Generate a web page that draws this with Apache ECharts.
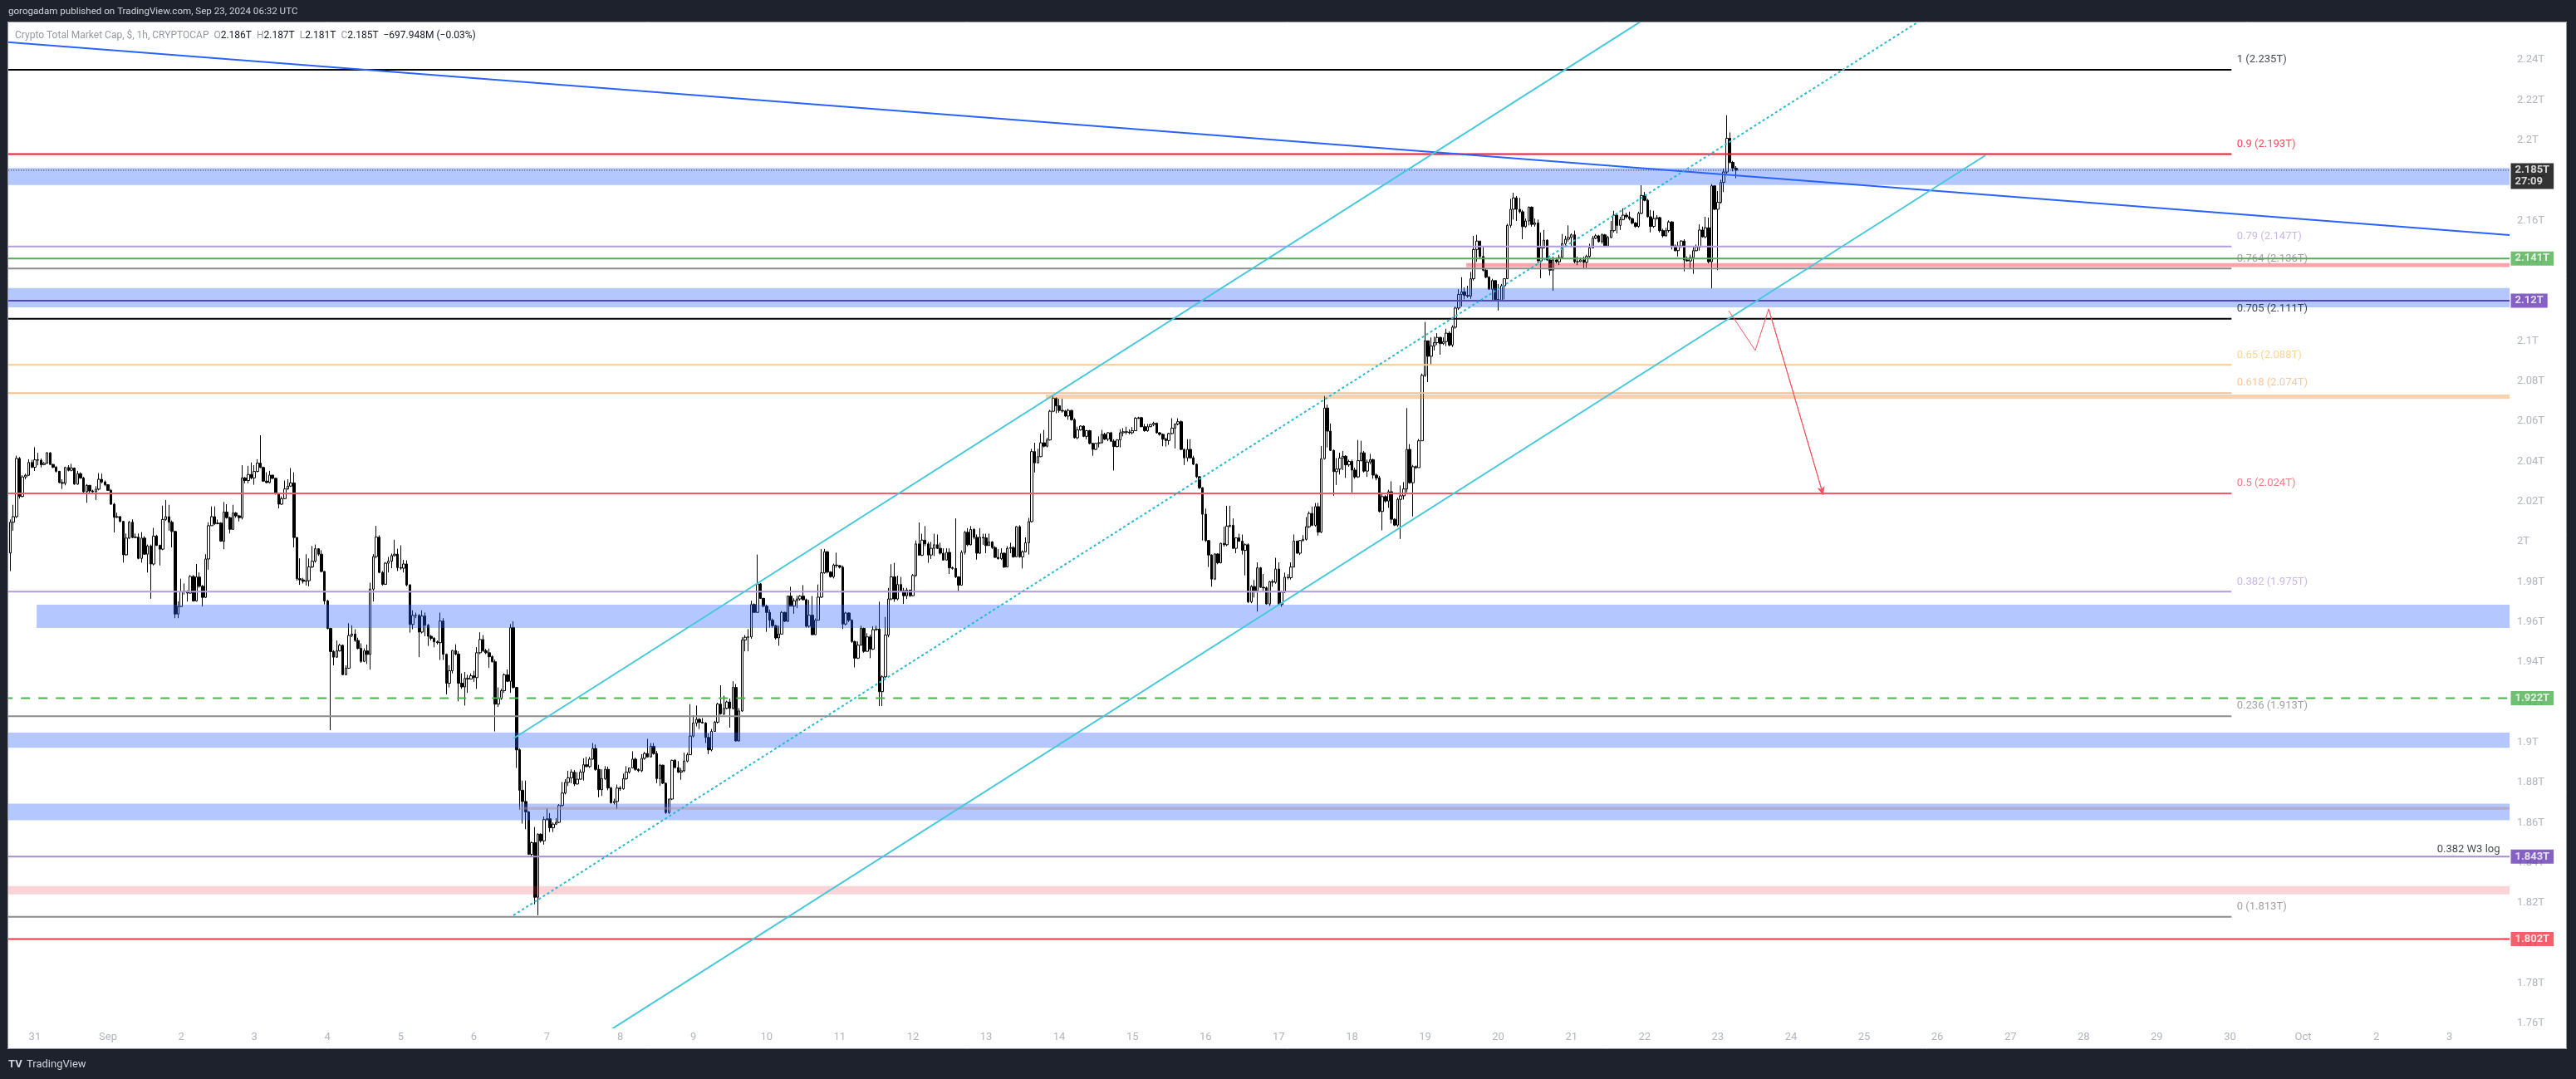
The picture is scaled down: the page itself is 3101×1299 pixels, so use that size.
<!DOCTYPE html>
<html>
<head>
<meta charset="utf-8">
<title>Crypto Total Market Cap, $, 1h</title>
<script src="https://cdn.jsdelivr.net/npm/echarts@6.0.0/dist/echarts.min.js"></script>
<style>
html,body{margin:0;padding:0;background:#1e222d;overflow:hidden;}
#chart{width:3101px;height:1299px;}
</style>
</head>
<body>
<div id="chart"></div>
<script>
// ===== DATA =====
// Hourly candles. x = hours since 2024-09-01 00:00 UTC, values in billions of USD.
const firstHour = -32;          // Aug 30 16:00 UTC
const firstOpen = 1994.3;

const closes = [
// Aug 30 16:00 .. Sep 5 14:00
2009.6,2012.4,2041.4,2022.5,2032.2,2033.0,2039.4,2037.0,2040.7,2040.5,
2038.3,2039.0,2044.2,2038.4,2037.0,2035.0,2029.4,2029.0,2036.9,2035.5,
2036.6,2028.6,2033.8,2031.6,2024.8,2028.0,2025.2,2024.8,2026.1,2031.0,
2029.7,2028.3,2025.5,2018.6,2012.1,2012.4,2010.0,1993.4,2001.7,2009.6,
2002.0,2002.2,1991.6,2001.7,1993.7,1997.8,1988.8,2002.7,1998.1,1996.2,
2011.0,2012.4,2009.6,2005.0,1963.9,1967.6,1975.0,1975.2,1974.3,1982.6,
1970.4,1982.3,1977.7,1972.2,1991.3,2007.9,2012.4,2008.9,2009.2,2000.2,
2014.7,2011.9,2006.1,2014.2,2012.8,2011.9,2031.7,2030.4,2033.4,2031.7,
2034.9,2039.1,2036.9,2030.1,2029.4,2033.1,2031.5,2023.8,2018.6,2021.4,
2026.2,2027.6,2029.2,2002.0,1981.5,1980.9,1980.2,1980.5,1987.4,1990.2,
1996.4,1993.7,1985.1,1970.4,1956.7,1945.2,1942.4,1945.5,1948.3,1933.7,
1936.9,1953.2,1953.9,1950.7,1946.8,1940.3,1945.5,1943.8,1976.3,1992.5,
2002.2,1984.6,1978.7,1989.2,1990.2,1993.0,1993.7,1987.0,1986.7,1988.8,
1978.4,1958.7,1963.2,1963.2,1954.9,1962.9,1958.3,1952.8,1951.8,1950.0,
1949.6,1960.4,1943.8,
// Sep 5 15:00 .. Sep 11 13:00
1929.4,1935.6,1945.7,1943.9,1929.4,1927.6,1931.8,1931.5,1933.1,1932.2,
1944.6,1951.2,1945.6,1944.6,1942.6,1940.1,1919.0,1921.8,1925.7,1933.6,
1930.4,1957.1,1927.3,1896.2,1876.1,1870.5,1865.3,1844.2,1850.0,1822.8,
1854.2,1850.9,1861.5,1861.9,1857.4,1859.2,1860.1,1868.5,1874.7,1880.0,
1882.3,1885.1,1879.2,1881.6,1885.1,1888.8,1887.9,1891.6,1896.9,1886.5,
1876.4,1881.9,1886.5,1877.2,1869.9,1870.5,1877.2,1876.8,1881.9,1885.1,
1887.2,1891.6,1886.5,1885.8,1892.0,1894.4,1892.7,1898.0,1894.4,1881.9,
1888.6,1879.6,1865.0,1871.7,1891.0,1887.4,1885.1,1885.8,1890.6,1893.8,
1903.1,1909.6,1911.4,1910.0,1909.6,1902.4,1896.2,1905.4,1910.0,1919.0,
1914.2,1916.9,1920.1,1916.9,1927.3,1900.7,1915.6,1950.9,1952.3,1952.5,
1968.6,1964.7,1978.9,1971.7,1967.8,1964.7,1960.8,1958.1,1952.0,1953.9,
1964.7,1960.3,1972.8,1967.8,1970.5,1971.4,1972.8,1971.0,1957.8,1963.3,
1953.6,1960.8,1972.3,1984.4,1994.9,1984.8,1982.5,1988.3,1988.0,1987.2,
1958.9,1964.4,1960.8,1950.2,1941.9,1948.4,1956.7,1945.3,1952.5,1946.4,
1956.1,1956.4,1925.2,
// Sep 11 14:00 .. Sep 17 12:00
1932.6,1953.4,1971.4,1982.4,1971.4,1978.6,1975.5,1973.0,1975.8,1973.0,
1983.1,1998.8,1993.2,2000.7,1998.8,1993.3,1996.6,1998.4,1996.6,1994.2,
1990.8,1994.6,1986.9,1986.6,1982.4,1978.3,1994.6,2004.6,1998.4,2006.0,
2002.1,1994.2,2002.1,2001.8,1998.0,1999.8,1997.0,1992.1,1991.5,1994.2,
1987.3,1996.6,1997.0,1992.4,2007.4,1992.4,1994.9,1999.4,2009.9,2044.8,
2039.2,2042.3,2049.2,2047.5,2050.6,2064.9,2071.4,2067.6,2065.3,2065.0,
2062.5,2065.3,2060.7,2051.7,2055.6,2057.5,2052.4,2055.2,2048.9,2045.9,
2048.9,2049.2,2053.4,2051.0,2054.2,2050.0,2047.3,2050.6,2054.2,2054.7,
2054.5,2054.2,2055.2,2061.4,2061.7,2057.2,2055.2,2057.2,2058.3,2058.9,
2054.2,2053.4,2051.0,2050.3,2053.8,2056.5,2058.6,2059.7,2045.9,2041.7,
2045.9,2041.7,2038.5,2032.3,2026.8,2013.6,2000.5,1993.3,1981.3,1993.8,
1989.4,1999.1,1998.4,2007.7,2008.1,1996.6,2001.8,2000.2,1995.6,1998.4,
1970.0,1977.6,1975.5,1986.9,1977.2,1976.9,1968.9,1980.0,1979.7,1986.3,
1968.6,1974.8,1982.2,1982.0,1987.3,2000.2,1994.2,2000.5,2001.1,2007.4,
2014.0,2008.1,2017.4,
// Sep 17 13:00 .. Sep 23 06:00
2004.7,2041.3,2066.5,2055.0,2045.4,2034.8,2036.1,2041.6,2042.5,2038.2,
2039.9,2035.6,2032.2,2040.3,2044.2,2035.1,2039.6,2040.8,2033.1,2031.7,
2015.0,2022.4,2020.2,2024.8,2011.1,2008.2,2021.0,2022.8,2026.2,2045.9,
2029.3,2037.3,2036.8,2050.2,2082.8,2100.0,2092.3,2097.4,2099.1,2101.7,
2098.6,2099.6,2103.8,2097.9,2106.8,2116.3,2123.1,2124.4,2122.6,2122.3,
2130.9,2145.5,2149.7,2142.0,2135.2,2131.7,2125.7,2130.0,2120.6,2120.2,
2127.4,2130.9,2157.5,2165.5,2171.2,2165.5,2164.3,2156.9,2159.7,2166.6,
2158.0,2158.7,2139.8,2146.3,2150.1,2140.3,2135.2,2140.3,2139.4,2141.5,
2148.4,2150.6,2151.5,2152.8,2139.4,2139.4,2140.3,2139.1,2142.0,2146.3,
2151.1,2152.3,2149.4,2152.8,2147.2,2151.5,2154.9,2162.6,2157.5,2160.4,
2162.6,2161.8,2160.9,2158.7,2157.0,2163.5,2172.4,2170.0,2161.8,2157.0,
2160.9,2161.4,2154.9,2152.3,2154.9,2159.2,2147.2,2144.9,2147.2,2149.7,
2140.3,2139.8,2141.5,2144.9,2146.7,2155.2,2151.8,2156.3,2139.4,2177.2,
2165.5,2169.0,2178.9,2184.1,2200.9,2188.9,2186.0,2185.0
];

const highs = [
2011.0,2018.3,2042.8,2042.1,2033.1,2033.8,2041.0,2040.7,2047.0,2044.2,
2041.4,2039.6,2044.5,2044.5,2038.7,2037.7,2035.2,2031.0,2037.3,2038.0,
2038.7,2036.9,2035.2,2034.5,2032.2,2028.6,2028.0,2025.8,2027.6,2034.1,
2033.8,2030.4,2028.6,2026.2,2019.3,2014.4,2012.8,2010.3,2004.0,2010.3,
2011.0,2004.0,2004.0,2004.7,2002.7,1998.5,1998.5,2006.8,2003.4,1998.5,
2017.9,2020.7,2018.3,2010.5,2005.4,1970.1,1981.5,1979.1,1975.7,1983.3,
1983.3,1988.8,1984.6,1978.4,1993.7,2009.6,2017.5,2017.5,2011.0,2009.6,
2019.7,2018.6,2012.4,2018.3,2014.7,2013.3,2038.0,2032.2,2037.7,2039.4,
2038.0,2041.0,2052.9,2037.3,2034.5,2035.2,2033.1,2031.7,2024.4,2022.5,
2030.4,2031.0,2036.6,2034.5,2002.2,1991.6,1981.9,1993.7,1991.6,1997.8,
1998.5,1996.7,1995.7,1985.3,1971.0,1957.0,1945.9,1950.7,1949.1,1948.7,
1938.3,1959.3,1958.3,1956.3,1952.1,1949.3,1946.8,1948.7,1979.5,1993.7,
2007.8,2003.1,1985.3,1989.8,1992.3,1994.0,2000.9,1996.4,1998.1,1990.9,
1990.6,1978.7,1965.7,1964.6,1963.9,1965.7,1964.6,1959.0,1953.5,1952.4,
1950.7,1964.6,1961.8,
1944.2,1938.4,1946.0,1948.8,1945.3,1934.3,1935.0,1933.6,1934.3,1935.6,
1947.4,1954.8,1953.4,1946.5,1946.7,1943.3,1941.2,1927.3,1926.6,1934.3,
1936.3,1958.9,1960.3,1927.6,1896.9,1880.9,1880.9,1865.7,1850.5,1857.8,
1854.6,1854.6,1863.0,1867.1,1864.7,1860.1,1862.2,1869.2,1880.2,1881.6,
1885.8,1886.5,1886.1,1885.1,1886.5,1892.0,1892.7,1892.7,1899.6,1898.9,
1888.8,1886.5,1888.1,1887.9,1877.8,1871.9,1878.9,1878.2,1884.4,1888.1,
1887.4,1895.5,1892.4,1887.0,1894.1,1895.2,1901.7,1899.6,1899.6,1895.6,
1889.2,1888.8,1880.0,1871.9,1891.3,1891.6,1890.6,1887.2,1894.8,1894.8,
1919.0,1913.5,1918.3,1912.1,1912.1,1910.0,1904.5,1906.6,1910.7,1919.7,
1928.4,1923.2,1920.7,1921.8,1930.4,1929.0,1917.0,1952.3,1953.4,1956.4,
1970.5,1969.2,1993.5,1979.3,1971.9,1968.6,1966.1,1961.7,1958.5,1958.1,
1965.4,1965.0,1973.0,1977.5,1971.7,1973.0,1973.3,1978.3,1971.6,1970.9,
1972.8,1961.7,1978.6,1996.3,1996.3,1995.2,1985.2,1989.0,1994.5,1988.3,
1988.0,1965.0,1964.7,1961.3,1950.6,1950.2,1958.1,1957.1,1954.3,1953.6,
1957.8,1958.1,1970.0,
1933.3,1962.4,1976.9,1988.7,1989.4,1983.0,1982.4,1976.9,1976.9,1976.1,
1983.8,2000.5,2009.5,2003.9,2007.7,1999.8,1999.8,2003.9,2003.5,1999.4,
1996.6,1996.6,1996.6,1987.5,2011.5,1982.7,1995.6,2005.3,2006.7,2007.7,
2006.7,2003.5,2006.7,2003.9,2003.9,2003.9,2000.2,1997.7,1996.3,1996.6,
1994.6,1997.7,1999.4,1997.7,2007.7,2008.1,1995.6,2002.1,2011.8,2046.2,
2049.2,2046.2,2053.8,2055.6,2051.7,2065.6,2073.2,2071.8,2071.1,2071.1,
2065.6,2066.2,2065.6,2061.4,2057.2,2057.9,2057.9,2055.6,2055.6,2049.2,
2049.2,2052.4,2055.6,2054.2,2054.5,2054.7,2051.0,2051.0,2055.9,2056.5,
2057.2,2055.9,2057.0,2062.1,2062.1,2062.1,2058.6,2058.6,2058.6,2059.7,
2059.3,2054.5,2053.8,2051.7,2054.2,2061.4,2058.6,2061.4,2060.3,2046.4,
2051.0,2051.0,2042.7,2038.9,2032.6,2027.0,2016.4,2000.7,1993.6,1994.2,
1994.2,1999.4,2007.4,2017.8,2017.8,2011.5,2002.1,2003.9,2003.5,1999.1,
1999.1,1978.3,1980.8,1989.6,1987.3,1983.8,1977.6,1980.4,1981.1,1991.9,
1989.6,1975.5,1984.5,1983.8,1989.6,2003.5,2000.5,2000.7,2003.2,2012.2,
2015.0,2017.4,2019.2,
2019.3,2047.6,2072.5,2068.2,2058.8,2045.9,2041.6,2044.2,2045.1,2043.0,
2040.8,2040.8,2036.8,2050.6,2050.2,2045.1,2040.8,2043.7,2041.3,2033.9,
2032.7,2024.5,2023.1,2025.8,2030.0,2011.6,2021.9,2027.9,2029.6,2066.5,
2048.5,2038.2,2037.9,2051.1,2083.7,2109.4,2100.0,2101.7,2102.0,2103.8,
2102.0,2101.7,2106.0,2104.8,2107.7,2117.1,2125.7,2131.7,2126.6,2127.4,
2134.3,2152.3,2152.8,2148.9,2146.7,2136.0,2132.2,2130.9,2130.0,2128.3,
2128.3,2131.2,2158.3,2170.7,2173.8,2172.1,2171.2,2165.2,2160.9,2166.9,
2166.9,2160.9,2160.4,2154.0,2155.2,2150.6,2140.8,2142.0,2141.5,2142.9,
2153.2,2152.3,2157.5,2153.5,2154.9,2142.0,2141.5,2142.0,2142.9,2148.4,
2152.3,2153.2,2152.8,2153.5,2153.2,2152.3,2159.7,2164.8,2163.5,2161.8,
2166.0,2163.8,2164.3,2161.4,2159.2,2164.3,2177.5,2174.1,2170.7,2165.2,
2164.8,2162.6,2161.8,2155.8,2156.3,2160.0,2159.7,2148.0,2149.4,2150.1,
2150.6,2142.0,2142.9,2146.7,2148.0,2158.0,2156.9,2161.8,2161.4,2178.1,
2176.3,2174.6,2180.3,2185.8,2212.4,2203.8,2189.6,2187.0
];

const lows = [
1985.3,2005.4,2011.7,2021.4,2022.0,2031.0,2032.7,2036.6,2035.2,2038.0,
2036.9,2038.0,2038.7,2038.3,2036.6,2034.4,2029.1,2026.2,2028.0,2035.0,
2035.0,2028.3,2028.3,2031.3,2024.4,2019.3,2024.1,2023.8,2020.7,2025.5,
2029.0,2027.6,2025.2,2018.3,2004.5,2011.7,2009.6,1989.5,1993.0,2001.3,
2001.7,2001.7,1991.2,1989.5,1993.4,1984.6,1971.5,1988.1,1997.8,1988.1,
1995.7,2010.3,2005.4,1997.1,1961.8,1961.8,1967.3,1973.6,1970.1,1974.0,
1970.1,1970.1,1977.0,1967.6,1971.8,1986.0,2007.8,2008.2,2008.6,1999.9,
1996.2,2011.4,2004.0,2005.8,2011.9,2010.0,2011.0,2029.0,2029.0,2031.0,
2028.3,2034.5,2036.6,2029.7,2029.0,2029.0,2031.0,2023.4,2016.5,2018.3,
2021.1,2025.8,2027.2,1997.1,1980.5,1978.4,1979.1,1978.1,1977.7,1986.7,
1989.5,1992.9,1984.6,1968.7,1956.3,1906.0,1938.3,1942.1,1945.2,1933.4,
1933.4,1936.6,1952.4,1950.0,1946.3,1939.6,1939.9,1939.0,1936.2,1970.1,
1991.6,1984.2,1978.1,1978.4,1984.6,1986.7,1992.5,1985.3,1986.0,1984.6,
1977.7,1954.6,1956.3,1961.8,1942.4,1954.2,1952.8,1948.0,1950.7,1947.3,
1948.7,1941.0,1941.0,
1923.9,1927.3,1934.3,1943.3,1920.4,1926.6,1918.3,1924.6,1931.4,1930.1,
1926.6,1943.9,1945.0,1943.9,1937.0,1939.8,1905.4,1917.6,1921.1,1924.6,
1930.0,1924.6,1926.8,1887.2,1866.4,1859.5,1856.7,1843.9,1842.9,1819.3,
1813.8,1850.0,1849.0,1860.9,1855.3,1855.3,1858.8,1859.7,1867.8,1874.0,
1878.2,1879.6,1878.2,1878.9,1881.4,1880.9,1887.6,1887.2,1891.3,1885.8,
1872.6,1873.3,1881.2,1876.1,1869.4,1869.0,1866.7,1875.8,1876.4,1881.2,
1884.4,1887.0,1885.8,1885.1,1885.1,1891.3,1892.4,1892.4,1893.8,1879.6,
1878.2,1879.2,1864.3,1864.3,1871.2,1886.9,1884.7,1881.3,1885.1,1890.0,
1893.7,1902.4,1907.9,1906.6,1909.3,1899.6,1894.1,1895.5,1905.2,1909.3,
1913.8,1913.5,1916.5,1907.3,1916.3,1900.3,1900.3,1915.2,1945.3,1945.3,
1951.6,1964.4,1964.4,1971.4,1967.2,1955.0,1957.1,1957.1,1951.2,1948.1,
1953.9,1959.9,1959.9,1967.8,1964.0,1966.8,1970.6,1970.6,1957.1,1957.1,
1953.4,1953.4,1960.6,1971.9,1984.0,1984.1,1982.0,1981.6,1986.9,1986.6,
1956.4,1958.2,1959.9,1949.5,1937.3,1941.5,1948.1,1944.6,1945.1,1941.9,
1946.0,1955.5,1918.0,
1918.0,1931.9,1952.3,1970.7,1970.0,1970.7,1975.3,1968.9,1971.4,1972.4,
1972.8,1982.4,1993.1,1992.8,1997.7,1989.4,1991.3,1992.8,1996.3,1993.5,
1990.5,1990.5,1983.8,1986.0,1981.8,1975.3,1978.0,1993.5,1997.7,1998.1,
2001.1,1991.0,1993.8,1998.4,1994.2,1998.0,1996.3,1991.9,1991.0,1990.8,
1986.9,1987.3,1994.2,1991.9,1992.4,1991.9,1986.6,1994.6,1993.5,2009.5,
2034.4,2039.0,2042.0,2046.9,2046.9,2050.3,2064.4,2063.9,2064.2,2064.2,
2062.0,2060.7,2060.2,2051.3,2051.0,2055.2,2052.0,2051.0,2048.4,2042.7,
2045.6,2046.9,2048.7,2050.6,2050.0,2049.6,2035.4,2046.9,2046.9,2052.4,
2053.4,2053.4,2053.4,2055.6,2061.1,2057.0,2054.7,2054.7,2057.0,2057.5,
2053.8,2052.7,2047.5,2047.3,2048.2,2053.4,2046.4,2057.9,2045.5,2038.1,
2039.9,2041.3,2038.1,2031.6,2026.1,2000.5,1999.8,1987.3,1977.5,1980.8,
1988.7,1989.1,1997.4,1997.7,2007.0,1996.3,1994.2,1999.8,1993.5,1983.1,
1969.3,1969.3,1972.1,1965.1,1977.0,1975.5,1968.6,1967.9,1977.5,1979.0,
1968.3,1967.5,1974.4,1981.1,1981.1,1987.1,1993.8,1993.3,2000.0,2000.5,
2006.7,2007.7,2007.4,
2003.0,2004.2,2040.8,2046.8,2045.1,2022.8,2028.2,2033.4,2035.6,2031.7,
2037.3,2024.5,2031.3,2031.7,2039.9,2034.4,2032.2,2038.5,2031.3,2030.5,
2014.5,2005.6,2019.3,2016.8,2009.0,2007.7,2007.3,2001.3,2021.0,2024.5,
2028.8,2012.5,2036.1,2036.8,2050.2,2082.0,2079.4,2088.0,2095.2,2097.9,
2093.1,2097.9,2097.4,2097.2,2096.9,2106.0,2115.4,2117.1,2120.6,2121.4,
2120.9,2130.0,2139.4,2141.2,2134.6,2131.2,2125.4,2119.7,2120.2,2115.1,
2119.7,2120.6,2130.9,2156.3,2160.4,2159.7,2163.5,2150.6,2156.3,2157.5,
2156.9,2156.9,2138.6,2131.2,2146.0,2139.8,2132.6,2124.9,2138.6,2137.7,
2141.2,2147.2,2149.4,2146.7,2138.6,2137.7,2139.1,2136.0,2136.4,2141.5,
2146.3,2150.6,2148.9,2148.4,2146.7,2146.7,2151.1,2154.0,2153.5,2155.2,
2160.0,2160.9,2160.0,2158.0,2156.3,2156.3,2163.1,2169.5,2161.4,2154.0,
2156.3,2160.4,2154.0,2151.5,2151.8,2154.0,2145.5,2144.6,2142.0,2146.3,
2134.6,2139.4,2136.0,2133.4,2144.6,2144.9,2151.5,2151.1,2138.6,2126.1,
2165.2,2135.2,2168.3,2174.1,2183.2,2188.4,2184.4,2181.0
];

// Time axis tick labels (one per day, starting Aug 31 00:00 UTC)
const dayLabels = ['31','Sep','2','3','4','5','6','7','8','9','10','11','12','13','14','15','16','17','18','19','20','21','22','23','24','25','26','27','28','29','30','Oct','2','3'];
// Price axis ticks ($B)
const priceTicks = [1760,1780,1800,1820,1840,1860,1880,1900,1920,1940,1960,1980,2000,2020,2040,2060,2080,2100,2120,2140,2160,2180,2200,2220,2240];

// Fibonacci retracement
const fibRatios = ['1','0.9','0.79','0.764','0.705','0.65','0.618','0.5','0.382','0.236','0'];
const fibPrices = [2235,2193,2147,2136,2111,2088,2074,2024,1975,1913,1813];
const fibLineColors = ['#000000','#f7162f','#b39ddb','#8c8c8c','#000000','#ffcc80','#f5bf8c','#f15a67','#b39ddb','#8c8c8c','#8c8c8c'];
const fibTextColors = ['#131722','#f7162f','#b9a6e0','#8a8a8a','#131722','#ffc97a','#f7ba86','#f15a67','#b9a6e0','#8a8a8a','#8a8a8a'];
const fibStartHour = -40, fibEndHour = 696.5;

// Parallel channel (hours, $B)
const channelHours = [133, 615.8];
const channelUpper = [1901.9, 2368.3];
const channelMiddle = [1813.8, 2280.2];
const channelLower = [1726.0, 2192.4];

// Descending trend line
const trendHours = [-40, 787.7];
const trendValues = [2249.6, 2152.7];

// Projected path (arrow)
const pathHours = [531.6, 540.3, 544.7, 562.6];
const pathValues = [2115.0, 2095.2, 2115.9, 2023.2];

// Rectangles / zones
const zoneStart = [-40, -40, -23.4, -40, -40, -40, 445.5, 307.6, 134.8];
const zoneLow   = [2177.6, 2116.7, 1956.9, 1897.3, 1861.1, 1824.2, 2136.7, 2071.1, 1866.4];
const zoneHigh  = [2186.1, 2126.3, 1968.5, 1904.8, 1869.4, 1828.4, 2138.7, 2073.2, 1867.8];
const zoneColor = ['rgba(41,98,255,0.35)','rgba(41,98,255,0.35)','rgba(41,98,255,0.35)','rgba(41,98,255,0.35)','rgba(41,98,255,0.35)',
                   'rgba(242,54,69,0.22)','rgba(242,54,69,0.45)','rgba(240,130,30,0.36)','rgba(178,141,149,0.5)'];

// Horizontal price levels with axis boxes
const levelValues = [2141, 2120, 1922, 1843, 1802];
const levelLineColors = ['#4caf50','#5447c6','#4caf50','#a68cd6','#f23645'];
const levelBoxColors = ['#4caf50','#673ab7','#4caf50','#673ab7','#f23645'];
const levelDashed = [false, false, true, false, false];
const lastPrice = 2185, countdown = '27:09';
const levelNote = '0.382 W3 log', levelNoteValue = 1843;

// ===== CHART =====
const X_MIN = -32.7, X_MAX = 787.7, Y_MIN = 1757.9, Y_MAX = 2258.2;
const FONT = 'Roboto, "Liberation Sans", Arial, sans-serif';
const fmtT = v => (+(v / 1000).toFixed(3)) + 'T';

const candles = closes.map((c, i) => {
  const o = i === 0 ? firstOpen : closes[i - 1];
  return [firstHour + i, o, c, Math.min(lows[i], o, c), Math.max(highs[i], o, c)];
});

const series = [];

// zones
series.push({
  type: 'line', data: [], silent: true, clip: false,
  markArea: {
    silent: true, z: 3, animation: false,
    label: { show: false },
    data: zoneLow.map((lo, i) => [
      { coord: [zoneStart[i], zoneHigh[i]], itemStyle: { color: zoneColor[i], borderWidth: 0 } },
      { coord: [X_MAX, lo] }
    ])
  }
});

// candles
series.push({
  type: 'candlestick', name: 'TOTAL', data: candles,
  dimensions: ['t', 'open', 'close', 'lowest', 'highest'],
  encode: { x: 0, y: [1, 2, 3, 4] },
  barWidth: 3, large: false, silent: true, z: 2,
  itemStyle: { color: '#ffffff', color0: '#000000', borderColor: '#000000', borderColor0: '#000000', borderColorDoji: '#000000', borderWidth: 1 }
});

function hline(h0, h1, v, color, width, type, z) {
  return { type: 'line', data: [[h0, v], [h1, v]], symbol: 'none', silent: true, z: z || 4,
           lineStyle: { color: color, width: width, type: type || 'solid' } };
}

// fib lines
fibPrices.forEach((p, i) => series.push(hline(fibStartHour, fibEndHour, p, fibLineColors[i], 2)));

// level lines
levelValues.forEach((v, i) => series.push(hline(-40, X_MAX, v, levelLineColors[i], 2, levelDashed[i] ? [11, 10] : 'solid')));
// last price dotted line
series.push(hline(-40, X_MAX, lastPrice, '#131722', 1, [1, 2], 4));

// trend line
series.push({ type: 'line', data: trendHours.map((h, i) => [h, trendValues[i]]), symbol: 'none', silent: true, z: 4,
  lineStyle: { color: '#2962ff', width: 2 } });

// channel
series.push({ type: 'line', data: channelHours.map((h, i) => [h, channelUpper[i]]), symbol: 'none', silent: true, z: 4,
  lineStyle: { color: '#45c8dc', width: 2 } });
series.push({ type: 'line', data: channelHours.map((h, i) => [h, channelLower[i]]), symbol: 'none', silent: true, z: 4,
  lineStyle: { color: '#45c8dc', width: 2 } });
series.push({ type: 'line', data: channelHours.map((h, i) => [h, channelMiddle[i]]), symbol: 'none', silent: true, z: 4,
  lineStyle: { color: '#26b8d3', width: 2, type: [3, 3] } });

// projected path with arrow
series.push({ type: 'line', data: pathHours.map((h, i) => [h, pathValues[i]]), symbol: 'none', silent: true, z: 4,
  lineStyle: { color: '#f7525f', width: 1 },
  markLine: { silent: true, animation: false, symbol: ['none', 'arrow'], symbolSize: [7, 10],
    lineStyle: { color: '#f7525f', width: 1, type: 'solid' }, label: { show: false },
    data: [[{ coord: [pathHours[2], pathValues[2]] }, { coord: [pathHours[3], pathValues[3]] }]] } });

// fib labels
series.push({
  type: 'scatter', clip: false, silent: true, z: 8, symbolSize: 1,
  itemStyle: { color: 'rgba(0,0,0,0)' },
  data: fibPrices.map((p, i) => ({
    value: [fibEndHour, p],
    label: { show: true, position: 'right', distance: 6, offset: [0, -12],
      formatter: fibRatios[i] + ' (' + fmtT(p) + ')', color: fibTextColors[i], fontSize: 13, fontFamily: FONT }
  })).concat([{
    value: [X_MAX, levelNoteValue],
    label: { show: true, position: 'left', distance: 11, offset: [0, -9],
      formatter: levelNote, color: '#131722', fontSize: 13, fontFamily: FONT }
  }])
});

// axis price boxes
const boxData = levelValues.map((v, i) => ({
  value: [X_MAX, v],
  label: { show: true, position: 'right', distance: 1, formatter: fmtT(v),
    color: '#ffffff', backgroundColor: levelBoxColors[i], padding: [2, 5, 2, 5],
    fontSize: 13, lineHeight: 13, fontWeight: 'bold', fontFamily: FONT }
}));
boxData.push({
  value: [X_MAX, lastPrice],
  label: { show: true, position: 'right', distance: 1, offset: [0, 7], formatter: fmtT(lastPrice) + '\n' + countdown,
    color: '#ffffff', backgroundColor: '#000000', padding: [2, 5, 1, 5],
    fontSize: 13, lineHeight: 14, fontWeight: 'bold', fontFamily: FONT }
});
series.push({ type: 'scatter', clip: false, silent: true, z: 10, symbolSize: 1,
  itemStyle: { color: 'rgba(0,0,0,0)' }, data: boxData });

const last = candles[candles.length - 1];
const legendText = '{g|Crypto Total Market Cap, $, 1h, CRYPTOCAP}  {g|O}{k|' + fmtT(last[1]) + '}  {g|H}{k|' + fmtT(last[4]) +
  '}  {g|L}{k|' + fmtT(last[3]) + '}  {g|C}{k|' + fmtT(last[2]) + '}  {k|−697.948M (−0.03%)}';

const chart = echarts.init(document.getElementById('chart'), null, { renderer: 'canvas', width: 3101, height: 1299 });
chart.setOption({
  animation: false,
  backgroundColor: '#ffffff',
  textStyle: { fontFamily: FONT },
  grid: { left: 10, right: 80, top: 28, bottom: 62, containLabel: false },
  xAxis: {
    type: 'value', min: X_MIN, max: X_MAX,
    axisLine: { show: false }, axisTick: { show: false }, splitLine: { show: false },
    axisLabel: {
      customValues: dayLabels.map((_, i) => -24 + 24 * i),
      formatter: v => dayLabels[Math.round((v + 24) / 24)],
      color: '#b2b5be', fontSize: 13, margin: 5, fontFamily: FONT
    }
  },
  yAxis: {
    type: 'value', position: 'right', min: Y_MIN, max: Y_MAX,
    axisLine: { show: false }, axisTick: { show: false }, splitLine: { show: false },
    axisLabel: { customValues: priceTicks, formatter: v => fmtT(v), color: '#b2b5be', fontSize: 13, margin: 9, align: 'left', fontFamily: FONT }
  },
  series: series,
  graphic: [
    { type: 'rect', z: 100, silent: true, shape: { x: 0, y: 0, width: 3101, height: 26 }, style: { fill: '#1e222d' } },
    { type: 'rect', z: 100, silent: true, shape: { x: 0, y: 1263, width: 3101, height: 36 }, style: { fill: '#1e222d' } },
    { type: 'rect', z: 100, silent: true, shape: { x: 0, y: 0, width: 9, height: 1299 }, style: { fill: '#1e222d' } },
    { type: 'rect', z: 100, silent: true, shape: { x: 3090, y: 0, width: 11, height: 1299 }, style: { fill: '#1e222d' } },
    { type: 'rect', z: 101, silent: true, shape: { x: 9.5, y: 26.5, width: 3080, height: 1236 }, style: { fill: 'none', stroke: '#9598a1', lineWidth: 1 } },
    { type: 'text', z: 102, silent: true, x: 10, y: 14,
      style: { text: 'gorogadam published on TradingView.com, Sep 23, 2024 06:32 UTC', fill: '#d1d4dc', font: '11.6px ' + FONT, verticalAlign: 'middle' } },
    { type: 'text', z: 102, silent: true, x: 18, y: 43,
      style: { text: legendText, font: '12px ' + FONT, verticalAlign: 'middle',
        rich: { g: { fill: '#9598a1', font: '12px ' + FONT }, k: { fill: '#131722', font: '12px ' + FONT } } } },
    { type: 'text', z: 102, silent: true, x: 10, y: 1282,
      style: { text: 'TV', fill: '#d1d4dc', font: 'bold 13px ' + FONT, verticalAlign: 'middle' } },
    { type: 'text', z: 102, silent: true, x: 32, y: 1282,
      style: { text: 'TradingView', fill: '#d1d4dc', font: '13px ' + FONT, verticalAlign: 'middle' } }
  ]
});
</script>
</body>
</html>
